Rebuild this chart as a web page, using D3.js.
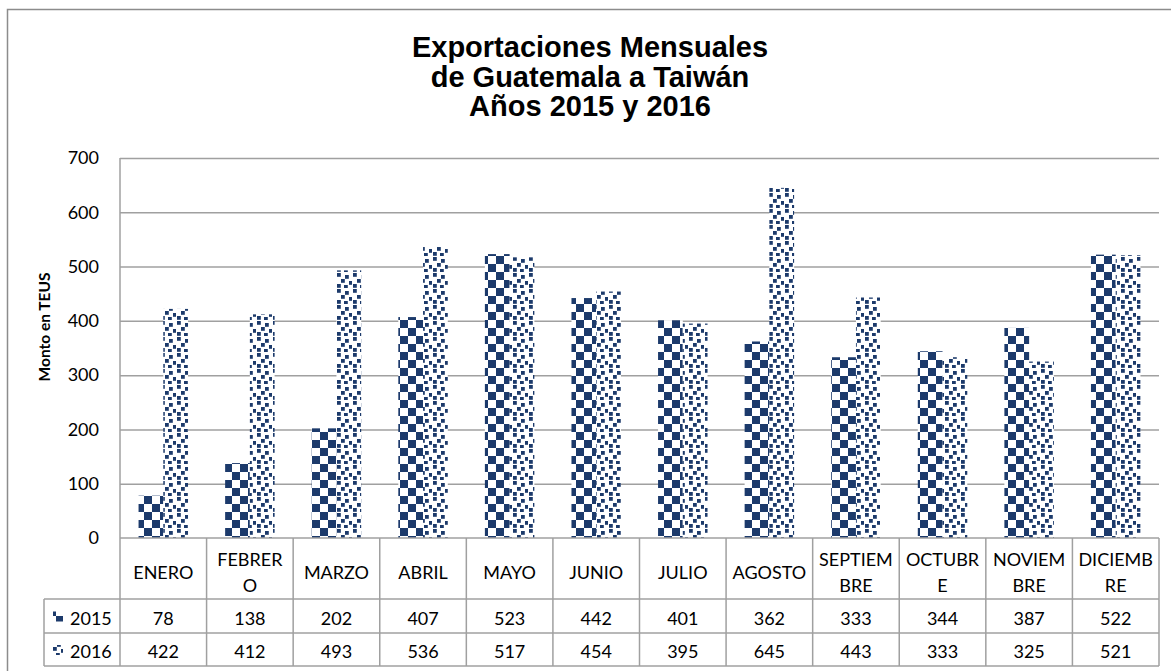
<!DOCTYPE html>
<html><head><meta charset="utf-8">
<script src="https://cdn.jsdelivr.net/npm/d3@7"></script>
<style>body{margin:0;background:#fff}svg{display:block}</style>
</head><body>
<svg id="c" width="1171" height="671"></svg>
<script>
// ---------- data ----------
const titleLines = ["Exportaciones Mensuales", "de Guatemala a Taiwán", "Años 2015 y 2016"];
const categories = ["ENERO","FEBRERO","MARZO","ABRIL","MAYO","JUNIO","JULIO","AGOSTO","SEPTIEMBRE","OCTUBRE","NOVIEMBRE","DICIEMBRE"];
const categoryLabelLines = [["ENERO"],["FEBRER","O"],["MARZO"],["ABRIL"],["MAYO"],["JUNIO"],["JULIO"],["AGOSTO"],["SEPTIEM","BRE"],["OCTUBR","E"],["NOVIEM","BRE"],["DICIEMB","RE"]];
const seriesNames = ["2015", "2016"];
const values2015 = [78,138,202,407,523,442,401,362,333,344,387,522];
const values2016 = [422,412,493,536,517,454,395,645,443,333,325,521];
const yTicks = [0,100,200,300,400,500,600,700];
const yAxisTitle = "Monto en TEUS";

const seriesValues = [values2015, values2016];

// ---------- layout ----------
const svg = d3.select("#c");
const navy = "#1c3a6b", gridCol = "#a0a0a0", font = "Lato, 'Open Sans', sans-serif";
const L = 120, R = 1159, T = 158, B = 538;
const rowH = 599, row1 = 633, row2 = 666, legL = 44;

const x = d3.scaleBand().domain(categories).range([L, R]);
const xs = d3.scaleBand().domain(seriesNames).range([0, x.bandwidth()]).paddingInner(0).paddingOuter(0.75);
const y = d3.scaleLinear().domain([0, 700]).range([B, T]);

// patterns
const defs = svg.append("defs");
const pc = defs.append("pattern").attr("id","checker").attr("patternUnits","userSpaceOnUse")
  .attr("width",16).attr("height",16);
pc.append("rect").attr("width",16).attr("height",16).attr("fill","#fff");
pc.append("rect").attr("x",0).attr("y",0).attr("width",8).attr("height",8).attr("fill",navy);
pc.append("rect").attr("x",8).attr("y",8).attr("width",8).attr("height",8).attr("fill",navy);

const pf = defs.append("pattern").attr("id","confetti").attr("patternUnits","userSpaceOnUse")
  .attr("width",16).attr("height",16);
pf.append("rect").attr("width",16).attr("height",16).attr("fill","#fff");
[[1,1],[9,3],[5,7],[13,9],[1,12],[8,13]].forEach(([a,b]) =>
  pf.append("rect").attr("x",a).attr("y",b).attr("width",3.8).attr("height",3.8).attr("fill",navy));
const fills = ["url(#checker)", "url(#confetti)"];

// outer frame
svg.append("rect").attr("x",7.5).attr("y",9.5).attr("width",1200).attr("height",700)
  .attr("fill","none").attr("stroke","#8c8c8c").attr("stroke-width",1.5);

// title
svg.append("g").selectAll("text").data(titleLines).join("text")
  .attr("x", 590).attr("y", (d,i) => 57 + i*29.5)
  .attr("text-anchor","middle").attr("font-family","'Liberation Sans', Arial, sans-serif")
  .attr("font-weight","bold").attr("font-size",29).attr("fill","#000").text(d => d);

// gridlines
svg.append("g").attr("transform",`translate(${L},0)`)
  .call(d3.axisLeft(y).tickValues(yTicks.filter(v=>v>0)).tickSize(-(R-L)).tickFormat(""))
  .call(g => g.select(".domain").remove())
  .call(g => g.selectAll("line").attr("stroke",gridCol).attr("stroke-width",1.5));

// tick labels
svg.append("g").attr("transform",`translate(${L},0)`)
  .call(d3.axisLeft(y).tickValues(yTicks).tickSize(0).tickPadding(21))
  .call(g => g.select(".domain").remove())
  .call(g => g.selectAll("text").attr("font-family",font).attr("font-size",18).attr("fill","#000"));

// y title
svg.append("text").attr("transform",`translate(50,327) rotate(-90)`)
  .attr("text-anchor","middle").attr("font-family",font).attr("font-weight","bold")
  .attr("font-size",15.5).text(yAxisTitle);

// bars
seriesNames.forEach((s, si) => {
  svg.append("g").selectAll("rect").data(seriesValues[si]).join("rect")
    .attr("x", (d,i) => x(categories[i]) + xs(s))
    .attr("y", d => y(d))
    .attr("width", xs.bandwidth())
    .attr("height", d => y(0) - y(d))
    .attr("fill", fills[si]);
});

// table lines
const tl = svg.append("g").attr("stroke",gridCol).attr("stroke-width",1.5);
tl.append("line").attr("x1",L).attr("x2",L).attr("y1",T).attr("y2",row2);
tl.append("line").attr("x1",L).attr("x2",R).attr("y1",B).attr("y2",B);
[rowH,row1,row2].forEach(yy => tl.append("line").attr("x1",legL).attr("x2",R).attr("y1",yy).attr("y2",yy));
tl.append("line").attr("x1",legL).attr("x2",legL).attr("y1",rowH).attr("y2",row2);
categories.forEach(c => tl.append("line").attr("x1",x(c)+x.bandwidth()).attr("x2",x(c)+x.bandwidth()).attr("y1",B).attr("y2",row2));

// category labels
const cg = svg.append("g").attr("font-family",font).attr("font-size",18).attr("text-anchor","middle");
categories.forEach((c, i) => {
  const lines = categoryLabelLines[i];
  lines.forEach((ln, j) => {
    cg.append("text").attr("x", x(c) + x.bandwidth()/2)
      .attr("y", 571.5 + (j - (lines.length-1)/2) * 26)
      .attr("dominant-baseline","central").text(ln);
  });
});

// value rows
const rowsY = [(rowH+row1)/2 + 1.5, (row1+row2)/2 + 1.5];
seriesNames.forEach((s, si) => {
  svg.append("g").selectAll("text").data(seriesValues[si]).join("text")
    .attr("x", (d,i) => x(categories[i]) + x.bandwidth()/2)
    .attr("y", rowsY[si]).attr("dominant-baseline","central")
    .attr("text-anchor","middle").attr("font-family",font).attr("font-size",18).text(d => d);
  svg.append("rect").attr("x",53).attr("y",rowsY[si]-6).attr("width",10).attr("height",10)
    .attr("fill",fills[si]);
  svg.append("text").attr("x",70).attr("y",rowsY[si]).attr("dominant-baseline","central")
    .attr("font-family",font).attr("font-size",18).text(s);
});
</script>
</body></html>
